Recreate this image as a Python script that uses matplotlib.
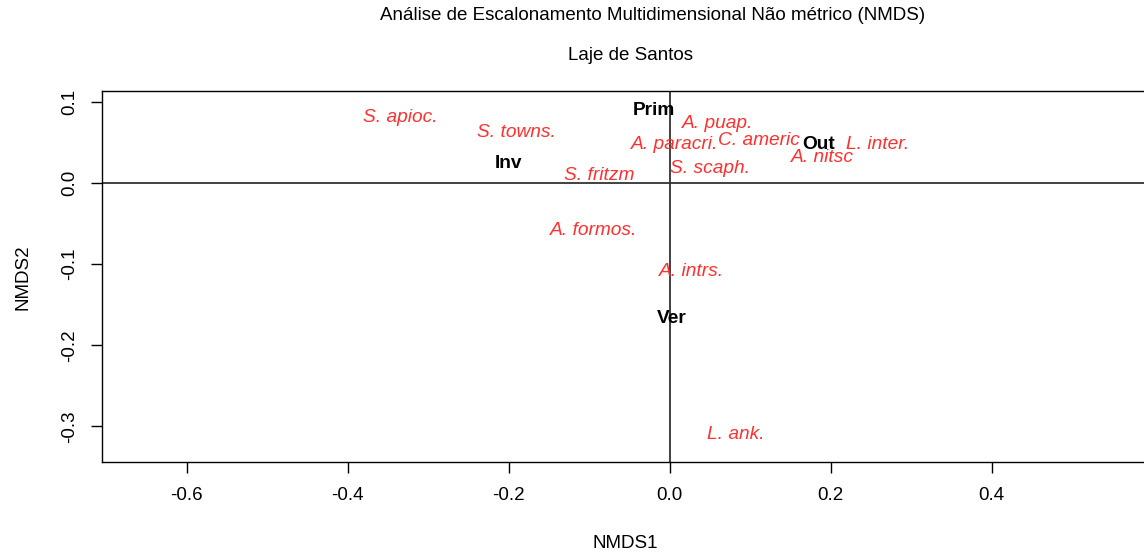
import numpy as np
import matplotlib
matplotlib.use("Agg")
import matplotlib.pyplot as plt

plt.rcParams['font.family'] = ['Liberation Sans', 'DejaVu Sans']

# especies (vermelho, italico)
species = ["S. apioc.", "S. towns.", "A. paracri.", "S. fritzm", "A. puap.",
           "C. americ", "L. inter.", "A. nitsc", "S. scaph.", "A. formos.",
           "A. intrs.", "L. ank."]
sp_x = [-0.334, -0.190, 0.006, -0.087, 0.060, 0.111, 0.258, 0.190, 0.050,
        -0.095, 0.027, 0.082]
sp_y = [0.081, 0.063, 0.048, 0.009, 0.074, 0.053, 0.047, 0.031, 0.0185,
        -0.058, -0.1086, -0.310]

# estacoes (preto, negrito)
sites = ["Prim", "Inv", "Out", "Ver"]
site_x = [-0.020, -0.200, 0.185, 0.002]
site_y = [0.089, 0.0247, 0.047, -0.167]

xticks = [-0.6, -0.4, -0.2, 0.0, 0.2, 0.4]
yticks = [0.1, 0.0, -0.1, -0.2, -0.3]

W, H = 1144, 554
fig = plt.figure(figsize=(W/100, H/100), dpi=100)
# a caixa passa um pouco da borda direita (como no original)
ax = fig.add_axes([102/W, 92/H, (1152-102)/W, (462-91)/H])
ax.set_xlim(-0.705, 0.599)
ax.set_ylim(-0.344, 0.1136)

ax.axhline(0, color='#333333', lw=1.3, zorder=1)
ax.axvline(0, color='#333333', lw=1.3, zorder=1)

for s, x, y in zip(species, sp_x, sp_y):
    ax.text(x, y, s, color='#FF3030', style='italic', fontsize=13.8,
            ha='center', va='center', zorder=3)
for s, x, y in zip(sites, site_x, site_y):
    ax.text(x, y, s, color='black', fontweight='bold', fontsize=13.8,
            ha='center', va='center', zorder=3)

ax.set_xticks(xticks)
ax.set_xticklabels(["%.1f" % v for v in xticks])
ax.set_yticks(yticks)
ax.set_yticklabels(["%.1f" % v for v in yticks], rotation=90, va='center')
ax.tick_params(axis='x', length=8, width=1, pad=10, labelsize=13.5)
ax.tick_params(axis='y', length=8, width=1, pad=9, labelsize=13.5)
for sp in ax.spines.values():
    sp.set_linewidth(1)
    sp.set_color('black')

fig.text(653/W, 1 - 16/H, "Análise de Escalonamento Multidimensional Não métrico (NMDS)",
         ha='center', va='center', fontsize=13.5)
fig.text(630/W, 1 - 55/H, "Laje de Santos", ha='center', va='center', fontsize=13.5)
fig.text(625/W, 1 - 544/H, "NMDS1", ha='center', va='center', fontsize=13.5)
fig.text(23/W, 1 - 277/H, "NMDS2", ha='center', va='center', rotation=90, fontsize=13.5)

fig.savefig("out.png", dpi=100)
